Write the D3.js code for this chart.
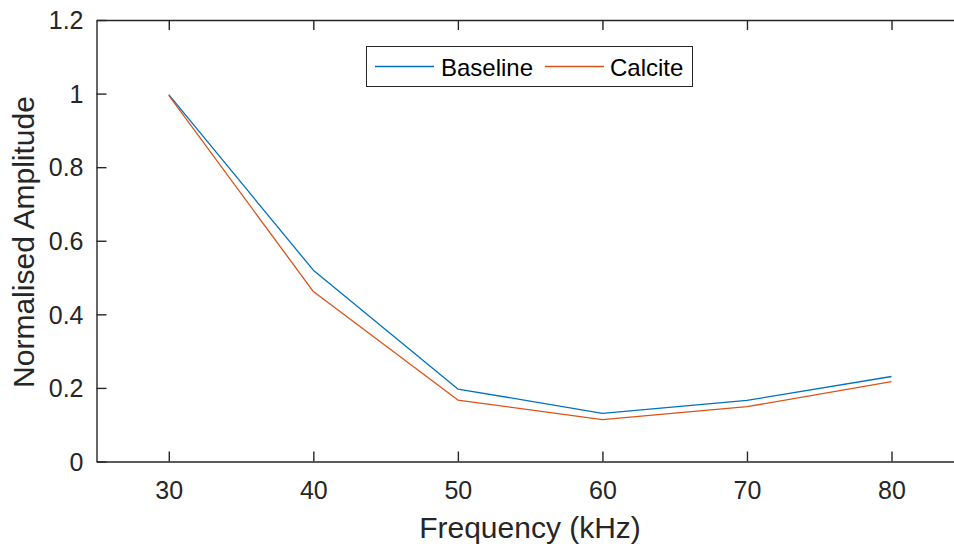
<!DOCTYPE html>
<html><head><meta charset="utf-8">
<script src="https://cdn.jsdelivr.net/npm/d3@7"></script>
<style>body{margin:0;background:#fff}svg{display:block}</style>
</head><body>
<svg id="c" width="954" height="544"></svg>
<script>
const frequencies = [30, 40, 50, 60, 70, 80];
const baseline = [0.997, 0.520, 0.197, 0.131, 0.166, 0.231];
const calcite = [0.995, 0.462, 0.167, 0.114, 0.149, 0.217];
const seriesNames = ["Baseline", "Calcite"];
const xTicks = [30, 40, 50, 60, 70, 80];
const yTicks = [0, 0.2, 0.4, 0.6, 0.8, 1, 1.2];
const yTickLabels = ["0", "0.2", "0.4", "0.6", "0.8", "1", "1.2"];

const svg = d3.select("#c");
const L = 96.5, R = 963.8, T = 20, B = 461.5;
const x = d3.scaleLinear().domain([25, 85]).range([L, R]);
const y = d3.scaleLinear().domain([0, 1.2]).range([B, T]);
const axisCol = "#262626";
const font = "'Liberation Sans', Arial, Helvetica, sans-serif";
const tickFs = "25px";

// axes
const gx = svg.append("g").attr("transform", `translate(0,${B})`)
  .call(d3.axisBottom(x).tickValues(xTicks).tickSizeInner(-10).tickSizeOuter(0).tickPadding(0));
const gxt = svg.append("g").attr("transform", `translate(0,${T})`)
  .call(d3.axisTop(x).tickValues(xTicks).tickSizeInner(-10).tickSizeOuter(0).tickFormat(""));
const gy = svg.append("g").attr("transform", `translate(${L},0)`)
  .call(d3.axisLeft(y).tickValues(yTicks).tickFormat((d,i)=>yTickLabels[i]).tickSizeInner(-10).tickSizeOuter(0).tickPadding(13));
[gx, gxt, gy].forEach(g => {
  g.selectAll("path").attr("stroke", axisCol).attr("stroke-width", 1.4);
  g.selectAll("line").attr("stroke", axisCol).attr("stroke-width", 1.4);
  g.selectAll("text").attr("fill", axisCol).style("font-family", font).style("font-size", tickFs);
});
gx.selectAll("text").attr("y", 499 - B).attr("dy", null);
gy.selectAll("text").attr("dy", "0.35em");

// lines
const line = d3.line().x((d,i)=>x(frequencies[i])).y(d=>y(d));
const colors = ["#0072BD", "#D95319"];
[baseline, calcite].forEach((s, k) => {
  svg.append("path").datum(s).attr("d", line).attr("fill", "none")
    .attr("stroke", colors[k]).attr("stroke-width", 1.3).attr("stroke-linejoin", "round");
});

// labels
svg.append("text").attr("x", 530).attr("y", 537.5).attr("text-anchor", "middle")
  .attr("fill", axisCol).style("font-family", font).style("font-size", "30px").text("Frequency (kHz)");
svg.append("text").attr("transform", `translate(33.5,242) rotate(-90)`).attr("text-anchor", "middle")
  .attr("fill", axisCol).style("font-family", font).style("font-size", "30px").text("Normalised Amplitude");

// legend
const lg = svg.append("g");
lg.append("rect").attr("x", 366.5).attr("y", 46.5).attr("width", 326).attr("height", 40)
  .attr("fill", "#fff").attr("stroke", axisCol).attr("stroke-width", 1);
const items = [{lx: 375, tx: 441}, {lx: 545, tx: 610}];
seriesNames.forEach((n, k) => {
  lg.append("line").attr("x1", items[k].lx).attr("x2", items[k].lx + 59).attr("y1", 66.5).attr("y2", 66.5)
    .attr("stroke", colors[k]).attr("stroke-width", 1.3);
  lg.append("text").attr("x", items[k].tx).attr("y", 75.5).attr("fill", "#000")
    .style("font-family", font).style("font-size", "24px").text(n);
});
</script>
</body></html>
